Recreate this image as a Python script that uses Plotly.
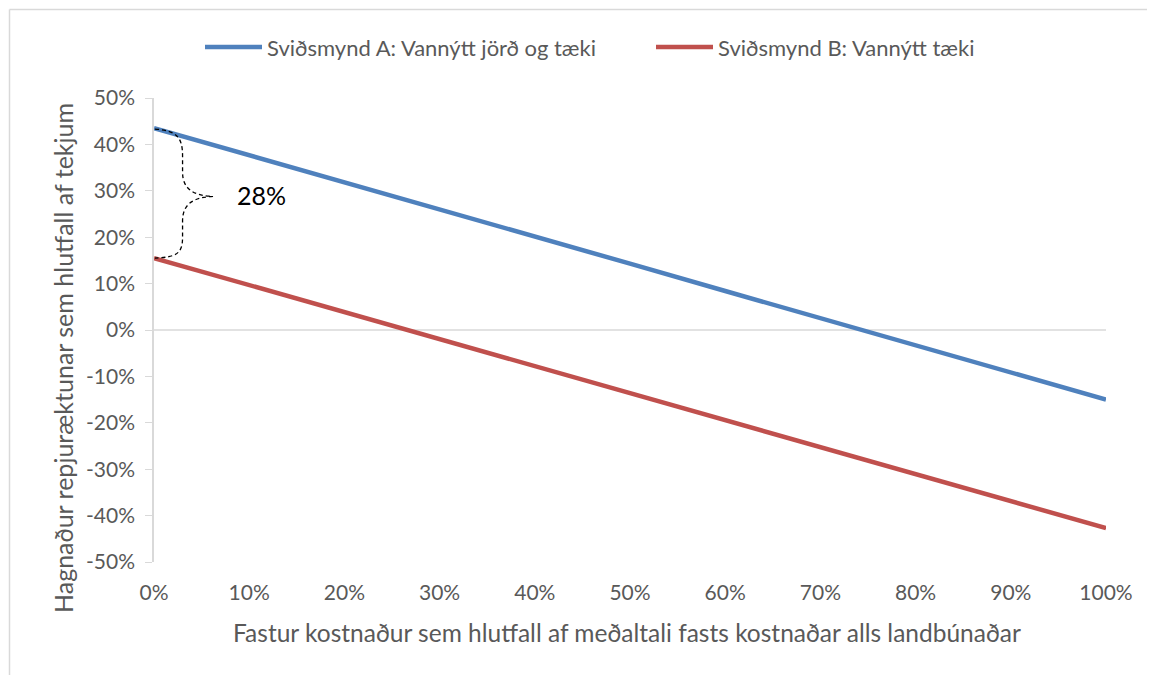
import plotly.graph_objects as go

x_vals = [0, 10, 20, 30, 40, 50, 60, 70, 80, 90, 100]
scenario_a = [43.5, 37.7, 31.8, 26.0, 20.1, 14.3, 8.4, 2.6, -3.3, -9.1, -15.0]
scenario_b = [15.5, 9.7, 3.9, -1.9, -7.8, -13.6, -19.4, -25.2, -31.1, -36.9, -42.7]
name_a = "Sviðsmynd A: Vannýtt jörð og tæki"
name_b = "Sviðsmynd B: Vannýtt tæki"
x_ticks = [0, 10, 20, 30, 40, 50, 60, 70, 80, 90, 100]
x_ticktext = ["0%", "10%", "20%", "30%", "40%", "50%", "60%", "70%", "80%", "90%", "100%"]
y_ticks = [50, 40, 30, 20, 10, 0, -10, -20, -30, -40, -50]
y_ticktext = ["50%", "40%", "30%", "20%", "10%", "0%", "-10%", "-20%", "-30%", "-40%", "-50%"]
x_title = "Fastur kostnaður sem hlutfall af meðaltali fasts kostnaðar alls landbúnaðar"
y_title = "Hagnaður repjuræktunar sem hlutfall af tekjum"
gap_label = "28%"

font_family = "Lato, 'Open Sans', sans-serif"
grey = "#595959"
axis_grey = "#d9d9d9"
colors = ["#4F81BD", "#C0504D"]

W, H = 1147, 667
L, R, T, B = 146, 49, 90, 113
PW, PH = W - L - R, H - T - B


def px(fx):
    return (fx - L) / PW


def py(fy):
    return (H - B - fy) / PH


fig = go.Figure()
fig.add_trace(go.Scatter(x=x_vals, y=scenario_a, mode="lines", name=name_a,
                         line=dict(color=colors[0], width=4.5), showlegend=False))
fig.add_trace(go.Scatter(x=x_vals, y=scenario_b, mode="lines", name=name_b,
                         line=dict(color=colors[1], width=4.5), showlegend=False))

# zero line
fig.add_shape(type="line", xref="x", yref="y", x0=0, x1=100, y0=0, y1=0,
              line=dict(color=axis_grey, width=1.5), layer="below")

# dashed curly brace between the two series at x=0
brace = ("M 0.1,43.3 C 2.4,43.0 3.0,41.5 3.0,37.5 L 3.0,34 "
         "C 3.0,30.2 4.3,28.9 6.2,28.8 "
         "C 4.3,28.6 3.0,27.4 3.0,23.5 L 3.0,20 "
         "C 3.0,16.5 2.4,15.7 0.1,15.5")
fig.add_shape(type="path", xref="x", yref="y", path=brace,
              line=dict(color="black", width=1.3, dash="4px,3px"))
fig.add_annotation(x=8.5, y=29.1, xref="x", yref="y", text=gap_label,
                   showarrow=False, xanchor="left", yanchor="middle",
                   font=dict(family=font_family, size=25, color="black"))

# manual legend (longer line samples, as in the reference)
legend_y = py(39)
for (x0, x1, tx), name, col in zip([(197, 254, 257), (648, 705, 708)],
                                   [name_a, name_b], colors):
    fig.add_shape(type="line", xref="paper", yref="paper",
                  x0=px(x0), x1=px(x1), y0=legend_y, y1=legend_y,
                  line=dict(color=col, width=4.5))
    fig.add_annotation(x=px(tx), y=legend_y, xref="paper", yref="paper",
                       text=name, showarrow=False, xanchor="left", yanchor="middle",
                       font=dict(family=font_family, size=22, color=grey))

# axis titles
fig.add_annotation(x=px(619), y=py(624), xref="paper", yref="paper", text=x_title,
                   showarrow=False, xanchor="center", yanchor="middle",
                   font=dict(family=font_family, size=24.5, color=grey))
fig.add_annotation(x=px(55), y=py(350), xref="paper", yref="paper", text=y_title,
                   showarrow=False, xanchor="center", yanchor="middle", textangle=-90,
                   font=dict(family=font_family, size=25, color=grey))

# chart border (top and left edges visible)
bx = px(1.5)
by = py(1.5)
fig.add_shape(type="line", xref="paper", yref="paper",
              x0=bx, x1=1.2, y0=by, y1=by,
              line=dict(color=axis_grey, width=1.5))
fig.add_shape(type="line", xref="paper", yref="paper",
              x0=bx, x1=bx, y0=by, y1=-0.4,
              line=dict(color=axis_grey, width=1.5))

fig.update_layout(
    width=W, height=H,
    margin=dict(l=L, r=R, t=T, b=B),
    paper_bgcolor="white", plot_bgcolor="white",
    font=dict(family=font_family, color=grey),
    showlegend=False,
    xaxis=dict(range=[0, 100], tickvals=x_ticks, ticktext=x_ticktext,
               showgrid=False, zeroline=False, showline=False, ticks="",
               ticklabelstandoff=16,
               tickfont=dict(size=21, color=grey),
               automargin=False, fixedrange=True),
    yaxis=dict(range=[-50, 50], tickvals=y_ticks, ticktext=y_ticktext,
               showgrid=False, zeroline=False, showline=True, linecolor=axis_grey,
               linewidth=1.5, ticks="outside", ticklen=7, tickcolor=axis_grey,
               ticklabelstandoff=6,
               tickfont=dict(size=21, color=grey),
               automargin=False, fixedrange=True),
)

fig.write_html("out.html")
